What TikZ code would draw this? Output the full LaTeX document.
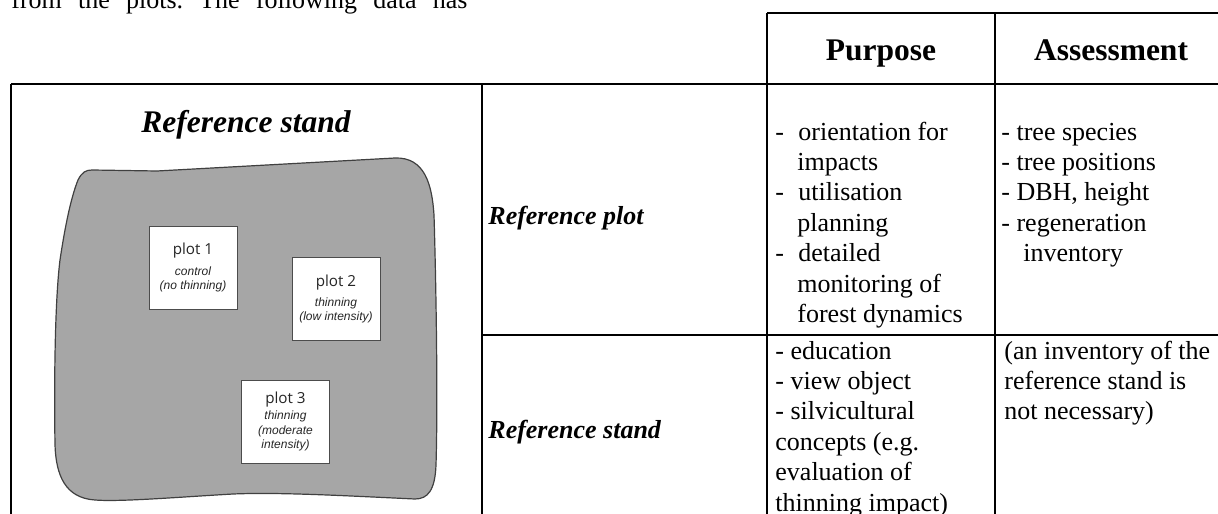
\documentclass[tikz,border=0pt]{standalone}
\usepackage{fontspec}
\setmainfont{Liberation Serif}
\newfontfamily\plotfont{Open Sans}
\newfontfamily\notefont{Liberation Sans}
\usepackage{xcolor}
\usetikzlibrary{positioning}

\newcommand{\hangdash}{\makebox[11.5pt][l]{-}}
\newcommand{\hangskip}{\hspace*{11pt}}
\newcommand{\plotnote}[1]{{\notefont\itshape\fontsize{6}{7}\selectfont #1}}

\begin{document}
\frenchspacing
\begin{tikzpicture}[
  x=0.5pt, y=-0.5pt,
  every node/.style={inner sep=0pt},
  rule/.style={line width=1pt, black},
  headtext/.style={font=\fontsize{15.75}{18}\selectfont\bfseries, anchor=base},
  rowlabel/.style={font=\fontsize{13}{15}\selectfont\bfseries\itshape, anchor=base west},
  celltext/.style={font=\fontsize{13}{15.2}\selectfont, anchor=base west, align=left},
  plotbox/.style={draw=black!70, fill=white, line width=0.5pt,
    minimum width=44pt, minimum height=41.5pt, align=center,
    text=black!85, font=\plotfont\fontsize{7.6}{7.2}\selectfont},
  standshape/.style={draw=black!75, fill=black!35, line width=0.6pt},
]
\useasboundingbox (0,0) rectangle (1218,513);

% end of the paragraph above the table
\node[anchor=base west, font=\fontsize{13}{15}\selectfont] (prevText) at (11,9)
  {\makebox[228pt][s]{from the plots. The following data has}};

% table rules
\draw[rule] (767,13) -- (1230,13);
\draw[rule] (11,84) -- (1230,84);
\draw[rule] (482,335) -- (1230,335);
\draw[rule] (11,84) -- (11,520);
\draw[rule] (482,84) -- (482,520);
\draw[rule] (767,13) -- (767,520);
\draw[rule] (995,13) -- (995,520);

% header
\node[headtext] (purpHead) at (881,61) {Purpose};
\node[headtext] (assHead) at (1111,61) {Assessment};

% sketch of the reference stand
\node[headtext, font=\fontsize{15.75}{18}\selectfont\bfseries\itshape] (standTitle) at (246,133) {Reference stand};
\draw[standshape] (78,180) .. controls (82,172) and (86,170) .. (92,170) -- (157,171)
  -- (395,158) .. controls (425,157) and (432,185) .. (434,215)
  .. controls (436,280) and (438,400) .. (436,465)
  .. controls (435,490) and (428,499) .. (415,499)
  .. controls (350,496) and (280,492) .. (233,494)
  .. controls (180,497) and (120,502) .. (95,500)
  .. controls (65,498) and (56,475) .. (55,445)
  .. controls (54,380) and (55,300) .. (60,260)
  .. controls (66,220) and (72,195) .. (78,180) -- cycle;

\node[plotbox] (plotA) at (193,267.5) {plot 1\\[3pt]\plotnote{control}\\\plotnote{(no thinning)}};
\node[plotbox] (plotB) at (336,299) {plot 2\\[3pt]\plotnote{thinning}\\\plotnote{(low intensity)}};
\node[plotbox] (plotC) at (285.5,421.5) {plot 3\\[1pt]\plotnote{thinning}\\\plotnote{(moderate}\\\plotnote{intensity)}};

% row labels
\node[rowlabel] (plotLabel) at (488,224) {Reference plot};
\node[rowlabel] (standLabel) at (488,438) {Reference stand};

% cells (base anchor = last line)
\node[celltext] (purpPlot) at (775,322.4) {\hangdash orientation for\\ \hangskip impacts\\
  \hangdash utilisation\\ \hangskip planning\\ \hangdash detailed\\
  \hangskip monitoring of\\ \hangskip forest dynamics};
\node[celltext] (assPlot) at (1001,261.6) {- tree species\\- tree positions\\- DBH, height\\
  - regeneration\\ \hangskip inventory};
\node[celltext] (purpStand) at (775,511) {- education\\- view object\\- silvicultural\\
  concepts (e.g.\\evaluation of\\thinning impact)};
\node[celltext] (assStand) at (1004,419.8) {(an inventory of the\\reference stand is\\not necessary)};
\end{tikzpicture}
\end{document}
